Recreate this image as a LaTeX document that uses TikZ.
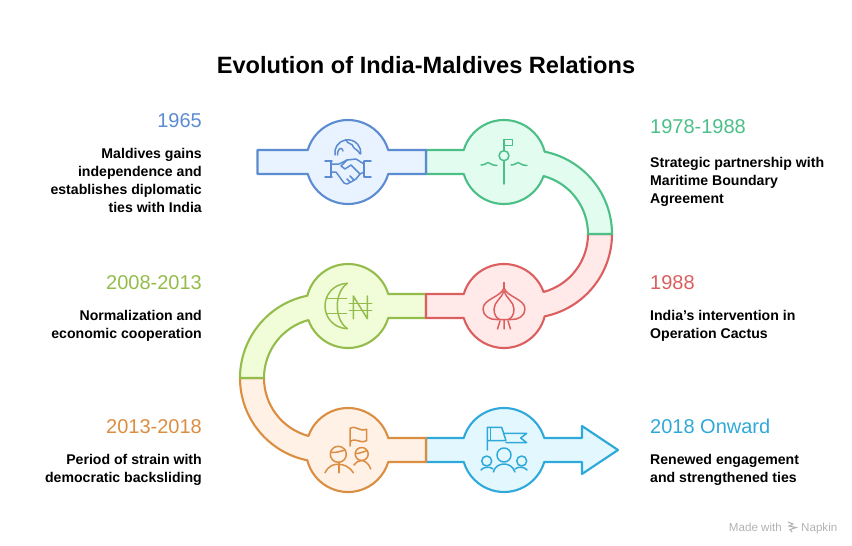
\documentclass[tikz,border=0pt]{standalone}
\usepackage{fontspec}
\setmainfont{Liberation Sans}
\definecolor{bluedark}{HTML}{5B8BD0}
\definecolor{bluelight}{HTML}{E9F2FF}
\definecolor{greendark}{HTML}{4CBF87}
\definecolor{greenlight}{HTML}{E2FCEF}
\definecolor{reddark}{HTML}{DC5F5F}
\definecolor{redlight}{HTML}{FFE9E9}
\definecolor{limedark}{HTML}{94BC4B}
\definecolor{limelight}{HTML}{F1FDD9}
\definecolor{orangedark}{HTML}{DB8D42}
\definecolor{orangelight}{HTML}{FFF1E5}
\definecolor{cyandark}{HTML}{2FA9D9}
\definecolor{cyanlight}{HTML}{E3F7FF}
\tikzset{
  band/.style={draw=#1dark,fill=#1light,line width=2.1pt,line join=round},
  icon/.style={draw=#1dark,line width=1.5pt,line cap=round,line join=round},
  year/.style={text=#1dark,inner sep=0pt,font=\fontsize{20}{22}\selectfont},
  info/.style={inner sep=0pt,text=black,font=\fontsize{14.1}{18}\selectfont\bfseries},
}
\begin{document}
\begin{tikzpicture}[x=1pt,y=1pt]
  \useasboundingbox (0,0) rectangle (852,-546);
  \draw (426,-65)node[font=\fontsize{23.6}{28}\selectfont\bfseries,inner sep=0pt](title){Evolution of India-Maldives Relations};
  % bands, last one first
  \draw[band=cyan] (426,-438) -- (463.75,-438) arc[start angle=163.4,end angle=16.6,radius=42pt] -- (582,-438) -- (582,-426) -- (618,-450) -- (582,-474) -- (582,-462) -- (544.25,-462) arc[start angle=-16.6,end angle=-163.4,radius=42pt] -- (426,-462) -- cycle;
  \draw[band=orange] (240,-378) arc[start angle=180,end angle=258.53,radius=84pt] arc[start angle=194.2,end angle=343.4,radius=42pt] -- (426,-462) -- (426,-438) -- (388.25,-438) arc[start angle=16.6,end angle=160.45,radius=42pt] arc[start angle=254.96,end angle=180,radius=60pt] -- cycle;
  \draw[band=lime] (426,-318) -- (426,-294) -- (388.25,-294) arc[start angle=16.6,end angle=165.8,radius=42pt] arc[start angle=101.47,end angle=180,radius=84pt] -- (264,-378) arc[start angle=180,end angle=105.04,radius=60pt] arc[start angle=199.55,end angle=343.4,radius=42pt] -- cycle;
  \draw[band=red] (612,-234) arc[start angle=0,end angle=-78.53,radius=84pt] arc[start angle=-14.2,end angle=-163.4,radius=42pt] -- (426,-318) -- (426,-294) -- (463.75,-294) arc[start angle=163.4,end angle=19.55,radius=42pt] arc[start angle=-74.96,end angle=0,radius=60pt] -- cycle;
  \draw[band=green] (426,-174) -- (426,-150) -- (463.75,-150) arc[start angle=163.4,end angle=14.2,radius=42pt] arc[start angle=78.53,end angle=0,radius=84pt] -- (588,-234) arc[start angle=0,end angle=74.96,radius=60pt] arc[start angle=-19.55,end angle=-163.4,radius=42pt] -- cycle;
  \draw[band=blue] (426,-174) -- (388.25,-174) arc[start angle=-16.6,end angle=-163.4,radius=42pt] -- (257.5,-174) -- (257.5,-150) -- (307.75,-150) arc[start angle=163.4,end angle=16.6,radius=42pt] -- (426,-150) -- cycle;
  % handshake and globe
  \begin{scope}[icon=blue]
    \draw (335,-155) arc[start angle=190,end angle=-5,radius=13pt];
    \draw (337.5,-155) .. controls (337.5,-148) and (342,-146) .. (343,-151);
    \draw (346,-140) .. controls (348,-145) and (352,-142) .. (354,-148) .. controls (356,-150) and (358,-150) .. (360,-154);
    \draw (325,-161) -- (332,-161) (325,-177) -- (332,-177) (331,-161) -- (331,-177);
    \draw (364,-161) -- (371,-161) (364,-177) -- (371,-177) (364,-161) -- (364,-177);
    \draw (331,-164) -- (339,-164) -- (347,-160) -- (356,-159) -- (364,-164);
    \draw (331,-172) -- (336,-172) -- (344,-183) -- (347,-184) -- (351,-182) -- (356,-179) -- (360,-174) -- (364,-172);
    \draw (347,-160) -- (341,-166) -- (345,-169) -- (351,-165) -- (360,-174);
    \draw (347,-179) -- (350,-182) (350,-176) -- (354,-180);
  \end{scope}
  % flag on the water
  \begin{scope}[icon=green]
    \draw (504,-150.5) -- (504,-139.5) -- (512.5,-139.5) -- (512.5,-145.5) -- (504,-145.5);
    \draw (504,-155.7) circle[radius=5pt];
    \draw (504,-160.7) -- (504,-184);
    \draw (481,-165) .. controls (486,-165) and (486,-162.5) .. (488,-162.5) .. controls (490,-162.5) and (491,-165.5) .. (497,-165.5);
    \draw (511,-165) .. controls (516,-165) and (516,-162.5) .. (518,-162.5) .. controls (520,-162.5) and (521,-165.5) .. (527,-165.5);
  \end{scope}
  % onion
  \begin{scope}[icon=red]
    \draw (504,-282.5) -- (504,-288);
    \draw (504,-288) .. controls (501,-297) and (483,-299) .. (483,-309) .. controls (483,-316) and (490,-320) .. (497,-319.5) -- (511,-319.5) .. controls (518,-320) and (525,-316) .. (525,-309) .. controls (525,-299) and (507,-297) .. (504,-288);
    \draw (504,-291) .. controls (502,-298) and (494,-302) .. (494,-309) .. controls (494,-315) and (497,-319) .. (500,-319.5);
    \draw (504,-291) .. controls (506,-298) and (514,-302) .. (514,-309) .. controls (514,-315) and (511,-319) .. (508,-319.5);
    \draw (504,-320) -- (504,-329) (500,-321) -- (497.5,-329) (508,-321) -- (510.5,-329);
  \end{scope}
  % crescent and currency
  \begin{scope}[icon=lime]
    \draw (347.3,-283.3) .. controls (333,-284) and (325,-295) .. (325,-306) .. controls (325,-317) and (333,-328) .. (347.3,-328.7);
    \draw (347.3,-283.3) .. controls (341,-288) and (337.3,-296) .. (337.3,-306) .. controls (337.3,-316) and (341,-324) .. (347.3,-328.7);
    \draw (327,-298.3) -- (346.7,-298.3) (327,-313.3) -- (346.7,-313.3);
    \draw (353.3,-318.7) -- (353.3,-296) -- (367.3,-318.7) -- (367.3,-296);
    \draw (349.3,-303.3) -- (371.7,-303.3) (349.3,-310.7) -- (371.7,-310.7);
  \end{scope}
  % people with a flag
  \begin{scope}[icon=orange]
    \draw (350,-446) -- (350,-428.3) .. controls (357,-425) and (358,-432) .. (366.7,-429.3) -- (366.7,-440.7) .. controls (358,-444) and (357,-437) .. (350,-441.7);
    \draw (338.3,-454.3) circle[radius=8pt];
    \draw (331,-452.5) .. controls (336,-453) and (341,-451) .. (345.5,-450);
    \draw (325,-472.7) .. controls (329,-465) and (334,-464.3) .. (338.3,-464.3) .. controls (343,-464.3) and (349,-466) .. (353.3,-472.7);
    \draw (339,-463) -- (339,-472.7);
    \draw (361.7,-454) circle[radius=6.5pt];
    \draw (356,-453.5) .. controls (360,-453.5) and (364,-451.5) .. (367.3,-450.5);
    \draw (354,-465) .. controls (357,-461.5) and (359,-460.5) .. (361.7,-460.5) .. controls (365,-460.5) and (369,-464) .. (370.7,-469);
  \end{scope}
  % team with a pennant
  \begin{scope}[icon=cyan]
    \draw (487.3,-450) -- (487.3,-427.3) -- (501.7,-427.3) -- (506,-440.7) -- (487.3,-440.7);
    \draw[line width=0.8pt] (490.7,-427.3) -- (490.7,-440.7);
    \draw (504,-433.3) -- (526.7,-433.3) -- (520.7,-438) -- (526.7,-442.7) -- (506,-442.7);
    \draw (504,-455) circle[radius=7pt];
    \draw (486.7,-461) circle[radius=5pt];
    \draw (521.7,-461) circle[radius=5pt];
    \draw (493.3,-472) .. controls (495,-466) and (500,-464) .. (504,-464) .. controls (508,-464) and (513,-466) .. (515,-472);
    \draw (481,-470) .. controls (483,-467) and (490,-466) .. (493,-469);
    \draw (527,-470) .. controls (525,-467) and (518,-466) .. (515,-469);
  \end{scope}
  % left side
  \draw (202,-127)node[year=blue,anchor=base east](y1965){1965};
  \draw (202,-148.5)node[info,anchor=north east,align=right](t1965){Maldives gains\\independence and\\establishes diplomatic\\ties with India};
  \draw (202,-289)node[year=lime,anchor=base east](y2008){2008-2013};
  \draw (202,-310.5)node[info,anchor=north east,align=right](t2008){Normalization and\\economic cooperation};
  \draw (202,-433)node[year=orange,anchor=base east](y2013){2013-2018};
  \draw (202,-454.5)node[info,anchor=north east,align=right](t2013){Period of strain with\\democratic backsliding};
  % right side
  \draw (650,-133)node[year=green,anchor=base west](y1978){1978-1988};
  \draw (650,-157.5)node[info,anchor=north west,align=left](t1978){Strategic partnership with\\Maritime Boundary\\Agreement};
  \draw (650,-289)node[year=red,anchor=base west](y1988){1988};
  \draw (650,-310.5)node[info,anchor=north west,align=left](t1988){India's intervention in\\Operation Cactus};
  \draw (650,-433)node[year=cyan,anchor=base west](y2018){2018 Onward};
  \draw (650,-454.5)node[info,anchor=north west,align=left](t2018){Renewed engagement\\and strengthened ties};
  % maker's mark
  \draw (782,-531)node[anchor=base east,inner sep=0pt,text=black!30,font=\fontsize{11.6}{13}\selectfont](made){Made with};
  \draw (801,-531)node[anchor=base west,inner sep=0pt,text=black!30,font=\fontsize{11.6}{13}\selectfont](napkin){Napkin};
  \draw[black!30,line width=1.1pt] (788,-522) -- (793,-524) -- (789,-526) -- (796,-527.5) -- (790,-529.5) -- (792,-532);
\end{tikzpicture}
\end{document}
